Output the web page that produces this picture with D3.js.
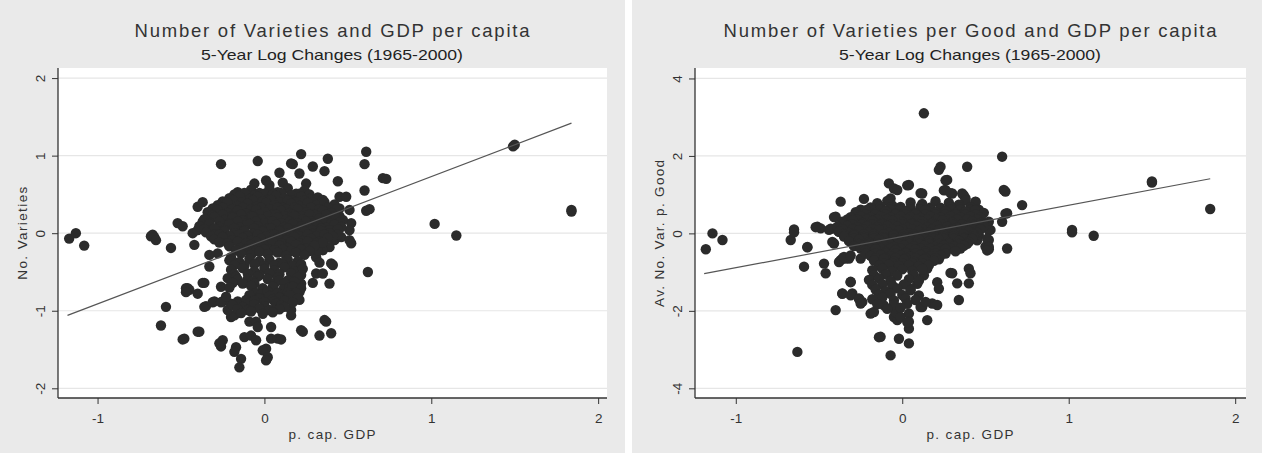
<!DOCTYPE html>
<html>
<head>
<meta charset="utf-8">
<script src="https://d3js.org/d3.v7.min.js"></script>
<style>
  body { margin: 0; background: #ffffff; }
  svg { display: block; font-family: "Liberation Sans", Arial, sans-serif; }
</style>
</head>
<body>
<div id="chart"></div>
<script>
// ---- data ----
const xTicks = [-1, 0, 1, 2];
const yTicksLeft = [-2, -1, 0, 1, 2];
const yTicksRight = [-4, -2, 0, 2, 4];

const titleLeft = "Number of Varieties and GDP per capita";
const titleRight = "Number of Varieties per Good and GDP per capita";
const subtitle = "5-Year Log Changes (1965-2000)";
const xTitle = "p. cap. GDP";
const yTitleLeft = "No. Varieties";
const yTitleRight = "Av. No. Var. p. Good";

// fitted line end points [gdp, value]
const fitLeft = [[-1.18, -1.06], [1.84, 1.42]];
const fitRight = [[-1.19, -1.04], [1.85, 1.41]];

// left panel: [log change p. cap. GDP, log change no. varieties]
const pointsLeft = [
  [-1.17,-0.07],[-1.13,0.00],[-1.08,-0.16],
  [-0.68,-0.04],[-0.67,-0.02],[-0.66,-0.05],[-0.65,-0.09],
  [-0.56,-0.19],[-0.62,-1.19],[-0.59,-0.95],[-0.48,-1.36],[-0.39,-1.27],
  [-0.47,-0.71],[-0.45,-0.73],[-0.40,-0.78],[-0.36,-0.64],[-0.35,-0.94],[-0.30,-0.88],[-0.25,-0.88],
  [-0.52,0.13],[-0.49,0.09],[-0.40,0.34],[-0.37,0.40],[-0.37,0.15],[-0.43,0.00],[-0.40,0.04],[-0.42,-0.15],
  [-0.26,0.89],[-0.04,0.93],[0.16,0.90],[0.09,0.78],[-0.06,0.64],[0.01,0.68],[0.03,0.62],[0.11,0.65],[-0.16,0.53],
  [-0.33,-0.28],[-0.28,-0.26],[-0.20,-0.31],
  [0.22,1.02],[0.17,0.89],[0.38,0.96],[0.61,1.05],[0.60,0.89],[0.71,0.71],[0.73,0.70],[0.29,0.86],[0.36,0.80],
  [0.21,0.77],[0.25,0.64],[0.44,0.67],[0.60,0.55],[0.51,0.30],[0.61,0.29],[0.63,0.31],[0.52,0.13],[0.46,-0.05],
  [0.51,-0.09],[0.42,-0.09],[0.39,-0.18],[0.35,-0.22],[0.31,-0.31],[0.32,-0.22],[0.40,-0.39],[0.52,-0.13],[0.51,0.04],
  [0.45,0.47],[0.49,0.47],[0.41,0.34],[0.45,0.32],
  [1.02,0.12],[1.15,-0.03],[1.49,1.12],[1.50,1.14],[1.84,0.28],[1.84,0.30],
  [-0.33,-0.43],[-0.46,-0.71],[-0.47,-0.76],[-0.37,-0.64],[-0.36,-0.95],[-0.31,-0.89],[-0.26,-0.89],[-0.26,-0.69],
  [-0.49,-1.37],[-0.40,-1.27],[-0.25,-1.38],[-0.26,-1.46],[-0.27,-1.42],[-0.17,-1.47],[-0.18,-1.53],[-0.14,-1.62],[-0.15,-1.73],
  [-0.12,-1.34],[-0.08,-1.32],[-0.05,-1.38],[0.01,-1.49],[-0.01,-1.51],[0.02,-1.60],[0.01,-1.64],[0.04,-1.36],[0.08,-1.36],
  [0.10,-1.37],[0.04,-1.21],[-0.09,-1.14],[-0.05,-1.14],[-0.04,-1.21],[-0.20,-1.08],[-0.18,-1.06],[-0.22,-0.99],[-0.20,-0.91],
  [0.41,-0.41],[0.33,-0.38],[0.31,-0.52],[0.35,-0.52],[0.29,-0.64],[0.39,-0.65],[0.62,-0.50],[0.21,-0.76],[0.21,-0.86],
  [0.16,-0.99],[0.16,-1.06],[0.36,-1.12],[0.37,-1.14],[0.22,-1.25],[0.23,-1.27],[0.33,-1.32],[0.40,-1.29],
  [0.17,-0.44],[0.18,-0.57],[0.22,-0.65],[0.17,-0.74],
  // dense upper cloud
  [-0.08,0.56],[-0.03,0.52],[0.03,0.57],[0.08,0.53],[0.14,0.58],[0.19,0.51],[0.24,0.55],
  [-0.18,0.50],[-0.12,0.52],[-0.06,0.49],[0.00,0.51],[0.05,0.50],[0.10,0.52],[0.16,0.49],[0.21,0.51],[0.27,0.50],
  [-0.21,0.45],[-0.15,0.48],[-0.09,0.44],[-0.04,0.47],[0.02,0.43],[0.07,0.48],[0.12,0.45],[0.17,0.42],[0.22,0.47],[0.27,0.44],[0.32,0.46],
  [-0.25,0.41],[-0.19,0.43],[-0.13,0.40],[-0.07,0.42],[-0.01,0.41],[0.04,0.43],[0.09,0.40],[0.14,0.42],[0.19,0.40],[0.24,0.42],[0.29,0.40],[0.35,0.43],
  [-0.28,0.36],[-0.22,0.39],[-0.16,0.35],[-0.10,0.38],[-0.05,0.34],[0.01,0.39],[0.06,0.36],[0.11,0.33],[0.16,0.38],[0.21,0.35],
  [0.26,0.39],[0.31,0.36],[0.36,0.40],[0.42,0.37],
  [-0.31,0.32],[-0.25,0.33],[-0.19,0.31],[-0.13,0.33],[-0.08,0.31],[-0.02,0.33],[0.03,0.31],[0.08,0.33],[0.13,0.31],[0.18,0.33],
  [0.23,0.31],[0.28,0.33],[0.33,0.31],[0.38,0.33],[0.43,0.31],
  [-0.34,0.27],[-0.28,0.30],[-0.22,0.26],[-0.16,0.29],[-0.11,0.25],[-0.05,0.30],[0.00,0.27],[0.05,0.24],[0.10,0.29],[0.15,0.26],
  [0.20,0.31],[0.25,0.27],[0.30,0.24],[0.35,0.29],[0.40,0.26],[0.45,0.22],
  [-0.31,0.23],[-0.25,0.24],[-0.19,0.22],[-0.14,0.24],[-0.08,0.22],[-0.03,0.24],[0.02,0.22],[0.07,0.24],[0.12,0.22],[0.17,0.24],
  [0.22,0.22],[0.27,0.24],[0.32,0.22],[0.37,0.24],[0.42,0.22],
  [-0.36,0.18],[-0.30,0.21],[-0.24,0.17],[-0.19,0.20],[-0.13,0.16],[-0.07,0.21],[-0.02,0.18],[0.03,0.15],[0.08,0.20],[0.13,0.17],
  [0.18,0.22],[0.23,0.18],[0.28,0.15],[0.33,0.19],[0.38,0.16],[0.43,0.20],[0.47,0.17],
  [-0.33,0.14],[-0.27,0.15],[-0.21,0.13],[-0.16,0.15],[-0.10,0.13],[-0.05,0.15],[0.00,0.13],[0.05,0.15],[0.10,0.13],[0.15,0.15],
  [0.20,0.13],[0.25,0.15],[0.30,0.13],[0.35,0.15],[0.40,0.13],[0.45,0.14],
  [-0.39,0.09],[-0.33,0.12],[-0.27,0.08],[-0.21,0.11],[-0.15,0.07],[-0.09,0.12],[-0.04,0.09],[0.02,0.06],[0.07,0.11],[0.12,0.08],
  [0.17,0.12],[0.22,0.09],[0.27,0.06],[0.32,0.10],[0.37,0.07],[0.42,0.11],[0.46,0.08],
  [-0.36,0.05],[-0.30,0.06],[-0.24,0.04],[-0.18,0.06],[-0.12,0.04],[-0.06,0.06],[-0.01,0.04],[0.04,0.06],[0.09,0.04],[0.14,0.06],
  [0.19,0.04],[0.24,0.06],[0.29,0.04],[0.34,0.06],[0.39,0.04],[0.44,0.05],
  [-0.35,0.01],[-0.30,-0.02],[-0.24,0.03],[-0.18,0.00],[-0.12,0.03],[-0.07,-0.01],[-0.01,0.02],[0.04,-0.02],[0.09,0.03],[0.14,0.00],
  [0.19,-0.03],[0.24,0.02],[0.29,-0.01],[0.34,0.03],[0.39,0.00],[0.44,-0.02],
  [-0.32,-0.04],[-0.27,-0.02],[-0.21,-0.04],[-0.15,-0.02],[-0.10,-0.04],[-0.04,-0.02],[0.01,-0.04],[0.06,-0.02],[0.11,-0.04],
  [0.16,-0.02],[0.21,-0.04],[0.26,-0.02],[0.31,-0.04],[0.36,-0.02],[0.41,-0.04],
  [-0.30,-0.08],[-0.25,-0.05],[-0.19,-0.09],[-0.13,-0.06],[-0.08,-0.10],[-0.02,-0.07],[0.03,-0.11],[0.08,-0.06],[0.13,-0.09],
  [0.18,-0.05],[0.23,-0.10],[0.28,-0.07],[0.33,-0.11],[0.38,-0.06],
  [-0.27,-0.12],[-0.22,-0.13],[-0.16,-0.11],[-0.11,-0.13],[-0.05,-0.11],[0.00,-0.13],[0.05,-0.11],[0.10,-0.13],[0.16,-0.11],
  [0.21,-0.13],[0.26,-0.11],[0.31,-0.13],[0.35,-0.12],
  [-0.21,-0.17],[-0.14,-0.19],[-0.08,-0.15],[-0.02,-0.18],[0.03,-0.21],[0.09,-0.16],[0.14,-0.19],[0.19,-0.15],[0.25,-0.20],[0.30,-0.16],
  [-0.17,-0.22],[-0.11,-0.21],[-0.05,-0.23],[0.00,-0.21],[0.06,-0.22],[0.11,-0.21],[0.16,-0.23],[0.22,-0.21],[0.27,-0.23],
  [-0.14,-0.26],[-0.08,-0.28],[-0.03,-0.24],[0.02,-0.27],[0.08,-0.25],[0.13,-0.29],[0.19,-0.25],[0.24,-0.28],
  // lower cloud
  [-0.21,-0.35],[-0.15,-0.37],[-0.09,-0.33],[-0.03,-0.36],[0.03,-0.34],[0.09,-0.38],[0.14,-0.34],[0.20,-0.36],
  [-0.18,-0.41],[-0.12,-0.42],[-0.06,-0.40],[0.00,-0.42],[0.06,-0.41],[0.11,-0.40],[0.17,-0.42],[0.22,-0.40],
  [-0.20,-0.47],[-0.13,-0.45],[-0.06,-0.49],[0.00,-0.46],[0.06,-0.48],[0.12,-0.44],[0.18,-0.49],[0.23,-0.46],
  [-0.18,-0.53],[-0.10,-0.52],[-0.03,-0.54],[0.03,-0.52],[0.09,-0.53],[0.16,-0.52],[0.22,-0.54],
  [-0.22,-0.58],[-0.17,-0.56],[-0.16,-0.60],[-0.10,-0.59],[-0.04,-0.56],[0.02,-0.59],[0.08,-0.57],[0.14,-0.61],[0.20,-0.57],
  [-0.19,-0.64],[-0.13,-0.65],[-0.07,-0.62],[-0.06,-0.65],[0.06,-0.65],[0.09,-0.61],[0.12,-0.64],[0.18,-0.63],
  [-0.21,-0.70],[-0.08,-0.68],[-0.01,-0.71],[0.05,-0.69],[0.11,-0.73],[0.15,-0.70],[0.17,-0.69],[0.22,-0.71],
  [-0.05,-0.77],[-0.02,-0.79],[0.02,-0.75],[0.08,-0.77],[0.11,-0.79],[0.14,-0.76],[0.19,-0.77],
  [-0.23,-0.82],[-0.09,-0.80],[-0.03,-0.84],[0.03,-0.81],[0.05,-0.85],[0.09,-0.83],[0.15,-0.80],[0.20,-0.84],
  [-0.16,-0.88],[-0.11,-0.86],[-0.09,-0.90],[-0.06,-0.87],[0.00,-0.89],[0.06,-0.88],[0.12,-0.87],[0.17,-0.89],
  [-0.19,-0.93],[-0.13,-0.95],[-0.06,-0.92],[0.00,-0.94],[0.07,-0.91],[0.10,-0.93],[0.12,-0.95],
  [-0.16,-0.98],[-0.10,-0.99],[-0.03,-0.97],[0.03,-0.99],[0.09,-0.98],
  [-0.14,-1.03],[-0.08,-1.01],[-0.01,-1.04],[0.05,-1.02]
];

// right panel: [log change p. cap. GDP, log change av. no. varieties per good]
const pointsRight = [
  [-1.18,-0.41],[-1.14,0.00],[-1.08,-0.17],[-0.67,-0.17],[-0.65,0.10],[-0.65,0.03],[-0.63,-3.06],[-0.59,-0.86],
  [-0.57,-0.36],[-0.51,0.17],[-0.49,0.13],[-0.47,-0.78],[-0.46,-1.03],[-0.40,0.43],[-0.37,0.82],[-0.41,-0.26],
  [-0.44,0.09],[-0.38,0.04],[-0.40,-1.98],[-0.37,-0.69],[-0.36,-0.65],[-0.32,-0.65],[-0.31,-1.25],[-0.36,-1.55],
  [-0.30,-1.55],[-0.26,-1.68],[-0.24,-1.77],[-0.23,0.89],[-0.25,-0.65],[-0.19,-2.07],[-0.17,-2.03],[-0.13,-2.67],
  [-0.07,-3.15],[-0.02,-2.72],[0.04,-2.84],[-0.05,-2.16],[-0.03,-2.24],[0.04,-2.07],[0.04,-2.28],[0.04,-2.46],
  [0.15,-2.24],[0.12,-1.90],[0.18,-1.81],[0.21,-1.85],[0.13,3.10],[0.60,1.98],[0.39,1.72],[0.23,1.72],[0.22,1.64],
  [-0.08,1.29],[-0.05,1.16],[-0.03,1.12],[0.04,1.25],[0.12,1.03],[0.27,1.38],[0.30,1.03],[0.26,1.12],[0.36,1.03],
  [0.38,0.91],[0.44,0.82],[0.61,1.12],[0.62,1.08],[0.72,0.73],[0.63,0.52],[0.60,0.30],[0.63,-0.39],[0.52,0.30],
  [0.53,0.09],[0.50,-0.34],[0.52,-0.17],[0.52,-0.41],[0.46,-0.04],[0.30,-1.03],[0.40,-0.91],[0.41,-1.03],[0.40,-1.29],
  [0.33,-1.29],[0.34,-1.72],[1.02,0.09],[1.02,0.03],[1.15,-0.06],[1.50,1.31],[1.50,1.34],[1.85,0.63],
  [-0.38,-0.74],[-0.34,-0.65],[-0.31,-1.26],[-0.36,-1.56],[-0.31,-1.60],[-0.26,-1.69],[-0.25,-1.81],[-0.14,-2.68],
  [-0.04,-2.03],[-0.01,-2.16],[0.03,-2.29],[0.11,-1.90],[0.14,-1.77],[0.21,-1.26],[0.22,-1.43],[0.29,-1.02],
  [0.22,-0.67],[0.15,-0.91],[0.13,-1.08],[0.09,-1.30],[0.10,-1.60],[0.05,-1.43],[-0.11,-1.86],
  [-0.41,0.42],[-0.52,0.16],[-0.57,-0.35],[-0.42,-0.22],[-0.43,0.12],[-0.39,0.08],[-0.35,-0.05],[-0.30,0.25],
  [-0.28,0.08],[-0.31,-0.10],[-0.19,0.59],[-0.18,0.46],[-0.07,0.90],[-0.06,0.72],[0.03,1.24],[-0.35,-0.61],
  [-0.31,-0.57],[-0.21,-0.35],[-0.19,-0.52],
  [0.26,1.37],[0.11,1.04],[0.25,1.11],[0.29,1.04],[0.37,0.98],[0.38,0.85],[0.44,0.81],[0.62,0.51],[0.51,0.16],
  [0.52,0.08],[0.51,-0.14],[0.52,-0.35],[0.51,-0.44],[0.48,0.51],[0.22,-0.61],[0.45,-0.05],[0.45,-0.18],
  // dense cloud
  [-0.15,0.78],[-0.09,0.84],[0.05,0.80],[0.12,0.76],[0.20,0.83],[0.28,0.79],[0.34,0.74],
  [-0.19,0.67],[-0.13,0.69],[-0.07,0.66],[-0.01,0.68],[0.05,0.66],[0.11,0.69],[0.17,0.67],[0.23,0.66],[0.29,0.68],
  [0.35,0.66],[0.41,0.68],
  [-0.25,0.61],[-0.19,0.61],[-0.13,0.61],[-0.07,0.61],[-0.01,0.61],[0.05,0.61],[0.11,0.61],[0.17,0.61],[0.23,0.61],
  [0.29,0.61],[0.35,0.61],[0.41,0.61],[0.46,0.61],
  [-0.28,0.55],[-0.22,0.60],[-0.16,0.52],[-0.10,0.58],[-0.04,0.51],[0.02,0.57],[0.08,0.53],[0.14,0.60],[0.20,0.54],
  [0.26,0.58],[0.32,0.51],[0.38,0.56],[0.44,0.60],[0.49,0.53],
  [-0.28,0.48],[-0.22,0.48],[-0.16,0.48],[-0.10,0.48],[-0.04,0.48],[0.02,0.48],[0.08,0.48],[0.14,0.48],[0.20,0.48],
  [0.26,0.48],[0.32,0.48],[0.38,0.48],[0.44,0.48],
  [-0.31,0.42],[-0.25,0.44],[-0.19,0.41],[-0.13,0.43],[-0.07,0.41],[-0.01,0.44],[0.05,0.42],[0.11,0.40],[0.17,0.43],
  [0.23,0.41],[0.29,0.44],[0.35,0.41],[0.41,0.43],[0.47,0.41],
  [-0.33,0.36],[-0.27,0.36],[-0.21,0.36],[-0.15,0.36],[-0.09,0.36],[-0.03,0.36],[0.03,0.36],[0.09,0.36],[0.15,0.36],
  [0.21,0.36],[0.27,0.36],[0.33,0.36],[0.39,0.36],[0.45,0.36],
  [-0.36,0.30],[-0.30,0.34],[-0.24,0.27],[-0.18,0.32],[-0.12,0.26],[-0.06,0.33],[0.00,0.29],[0.06,0.25],[0.12,0.31],
  [0.18,0.27],[0.24,0.34],[0.30,0.28],[0.36,0.24],[0.42,0.31],[0.47,0.27],
  [-0.36,0.23],[-0.30,0.23],[-0.24,0.23],[-0.18,0.23],[-0.12,0.23],[-0.06,0.23],[0.00,0.23],[0.06,0.23],[0.12,0.23],
  [0.18,0.23],[0.24,0.23],[0.30,0.23],[0.36,0.23],[0.42,0.23],[0.48,0.23],
  [-0.39,0.17],[-0.33,0.19],[-0.27,0.16],[-0.21,0.18],[-0.15,0.16],[-0.09,0.19],[-0.03,0.17],[0.03,0.15],[0.09,0.18],
  [0.15,0.16],[0.21,0.19],[0.27,0.17],[0.33,0.15],[0.39,0.18],[0.45,0.16],[0.49,0.19],
  [-0.36,0.11],[-0.30,0.11],[-0.24,0.11],[-0.18,0.11],[-0.12,0.11],[-0.06,0.11],[0.00,0.11],[0.06,0.11],[0.12,0.11],
  [0.18,0.11],[0.24,0.11],[0.30,0.11],[0.36,0.11],[0.42,0.11],[0.47,0.11],
  [-0.38,0.05],[-0.32,0.01],[-0.26,0.08],[-0.20,0.03],[-0.14,0.09],[-0.08,0.02],[-0.02,0.07],[0.04,0.00],[0.10,0.06],
  [0.16,0.02],[0.22,0.09],[0.28,0.04],[0.34,0.00],[0.40,0.06],[0.45,0.02],
  [-0.35,-0.02],[-0.29,-0.02],[-0.23,-0.02],[-0.17,-0.02],[-0.11,-0.02],[-0.05,-0.02],[0.01,-0.02],[0.07,-0.02],
  [0.13,-0.02],[0.19,-0.02],[0.25,-0.02],[0.31,-0.02],[0.37,-0.02],[0.43,-0.02],
  [-0.35,-0.08],[-0.29,-0.06],[-0.23,-0.09],[-0.17,-0.07],[-0.11,-0.10],[-0.05,-0.06],[0.01,-0.09],[0.07,-0.07],
  [0.13,-0.10],[0.19,-0.06],[0.25,-0.09],[0.31,-0.07],[0.37,-0.10],[0.43,-0.08],
  [-0.29,-0.14],[-0.23,-0.14],[-0.17,-0.14],[-0.11,-0.14],[-0.05,-0.14],[0.01,-0.14],[0.07,-0.14],[0.13,-0.14],
  [0.19,-0.14],[0.25,-0.14],[0.31,-0.14],[0.37,-0.14],[0.42,-0.14],
  [-0.32,-0.20],[-0.26,-0.16],[-0.20,-0.23],[-0.14,-0.17],[-0.08,-0.24],[-0.02,-0.18],[0.04,-0.22],[0.10,-0.15],
  [0.16,-0.21],[0.22,-0.17],[0.28,-0.24],[0.34,-0.19],[0.40,-0.22],
  [-0.26,-0.27],[-0.20,-0.27],[-0.14,-0.27],[-0.08,-0.27],[-0.02,-0.27],[0.04,-0.27],[0.10,-0.27],[0.16,-0.27],
  [0.22,-0.27],[0.28,-0.27],[0.34,-0.27],[0.39,-0.27],
  [-0.29,-0.33],[-0.23,-0.31],[-0.17,-0.34],[-0.11,-0.32],[-0.05,-0.35],[0.01,-0.31],[0.07,-0.34],[0.13,-0.32],
  [0.19,-0.35],[0.25,-0.31],[0.31,-0.34],[0.37,-0.32],
  [-0.25,-0.39],[-0.19,-0.39],[-0.13,-0.39],[-0.07,-0.39],[-0.01,-0.39],[0.05,-0.39],[0.11,-0.39],[0.17,-0.39],
  [0.23,-0.39],[0.29,-0.39],[0.35,-0.39],
  [-0.22,-0.45],[-0.16,-0.41],[-0.10,-0.48],[-0.04,-0.43],[0.02,-0.49],[0.08,-0.42],[0.14,-0.47],[0.20,-0.44],
  [0.26,-0.40],[0.32,-0.46],
  [-0.22,-0.52],[-0.16,-0.52],[-0.10,-0.52],[-0.04,-0.52],[0.02,-0.52],[0.08,-0.52],[0.14,-0.52],[0.20,-0.52],[0.26,-0.52],
  [-0.19,-0.58],[-0.13,-0.56],[-0.07,-0.59],[-0.01,-0.57],[0.05,-0.60],[0.11,-0.56],[0.17,-0.59],[0.23,-0.57],
  [-0.16,-0.64],[-0.10,-0.64],[-0.04,-0.64],[0.02,-0.64],[0.08,-0.64],[0.14,-0.64],[0.20,-0.64],
  [-0.17,-0.70],[-0.11,-0.66],[-0.05,-0.73],[0.01,-0.68],[0.07,-0.74],[0.13,-0.67],[0.19,-0.71],
  [-0.12,-0.77],[-0.06,-0.77],[0.00,-0.77],[0.06,-0.77],[0.12,-0.77],
  [-0.14,-0.83],[-0.08,-0.81],[-0.02,-0.84],[0.04,-0.82],[0.10,-0.85],[0.16,-0.82],
  [-0.18,-0.95],[-0.12,-0.91],[-0.06,-0.98],[0.00,-0.93],[0.06,-0.97],[0.12,-0.92],
  [-0.17,-1.08],[-0.10,-1.06],[-0.03,-1.09],[0.07,-1.07],
  [-0.20,-1.20],[-0.14,-1.16],[-0.07,-1.23],[0.04,-1.18],[0.10,-1.22],
  [-0.18,-1.33],[-0.12,-1.31],[-0.06,-1.34],[0.01,-1.32],
  [-0.16,-1.45],[-0.10,-1.49],[-0.03,-1.42],[0.05,-1.47],
  [-0.14,-1.58],[-0.07,-1.56],[0.00,-1.59],
  [-0.18,-1.70],[-0.12,-1.66],[-0.05,-1.73],[0.02,-1.68],[0.08,-1.72],
  [-0.15,-1.83],[-0.05,-1.84],[0.03,-1.82],
  [-0.09,-1.95],[-0.01,-1.92]
];

// ---- layout ----
const W = 1262, H = 453;
const bg = "#eaeaea", dot = "#2b2b2b";

const svg = d3.select("#chart").append("svg")
  .attr("width", W).attr("height", H);

svg.append("rect").attr("width", W).attr("height", H).attr("fill", "#ffffff");

function drawPanel(cfg) {
  const g = svg.append("g");

  // grey panel background
  g.append("rect")
    .attr("x", cfg.panel[0]).attr("y", 0)
    .attr("width", cfg.panel[1] - cfg.panel[0]).attr("height", H)
    .attr("fill", bg);

  const x = d3.scaleLinear().domain(cfg.xDomain).range([cfg.left, cfg.right]);
  const y = d3.scaleLinear().domain(cfg.yDomain).range([cfg.bottom, cfg.top]);

  // white plot region
  g.append("rect")
    .attr("x", cfg.left).attr("y", cfg.top)
    .attr("width", cfg.right - cfg.left).attr("height", cfg.bottom - cfg.top)
    .attr("fill", "#ffffff");

  // horizontal gridlines
  g.selectAll(".grid")
    .data(cfg.yTicks)
    .enter().append("line")
    .attr("x1", cfg.left).attr("x2", cfg.right)
    .attr("y1", d => y(d)).attr("y2", d => y(d))
    .attr("stroke", "#e6e6e6").attr("stroke-width", 1.2);

  // points
  g.selectAll(".pt")
    .data(cfg.points)
    .enter().append("circle")
    .attr("cx", d => x(d[0]))
    .attr("cy", d => y(d[1]))
    .attr("r", 5.2)
    .attr("fill", dot);

  // fitted line
  g.append("path")
    .datum(cfg.fit)
    .attr("d", d3.line().x(d => x(d[0])).y(d => y(d[1])))
    .attr("fill", "none")
    .attr("stroke", "#555555")
    .attr("stroke-width", 1.2);

  // x axis
  const xAxis = g.append("g")
    .attr("transform", `translate(0,${cfg.bottom})`)
    .call(d3.axisBottom(x).tickValues(xTicks).tickSize(6).tickFormat(d => String(d)));
  xAxis.select(".domain").attr("d", `M${cfg.left},0H${cfg.right}`).attr("stroke", "#333").attr("stroke-width", 1.3);
  xAxis.selectAll(".tick line").attr("stroke", "#333");
  xAxis.selectAll(".tick text")
    .attr("y", 25).attr("dy", 0)
    .style("font-size", "13.5px").attr("fill", "#333");

  // y axis with rotated labels
  const yAxis = g.append("g")
    .attr("transform", `translate(${cfg.left},0)`)
    .call(d3.axisLeft(y).tickValues(cfg.yTicks).tickSize(6).tickFormat(d => String(d)));
  yAxis.select(".domain").attr("d", `M0,${cfg.top}V${cfg.bottom}`).attr("stroke", "#333").attr("stroke-width", 1.3);
  yAxis.selectAll(".tick line").attr("stroke", "#333");
  yAxis.selectAll(".tick text")
    .attr("transform", "rotate(-90)")
    .attr("x", 0).attr("y", -13).attr("dy", 0)
    .attr("text-anchor", "middle")
    .style("font-size", "13.5px").attr("fill", "#333");

  // titles
  const cx = cfg.titleCenter;
  g.append("text")
    .attr("x", cx).attr("y", 37)
    .attr("text-anchor", "middle")
    .attr("textLength", cfg.titleWidth)
    .style("font-size", "18.5px").attr("fill", "#333")
    .text(cfg.title);
  g.append("text")
    .attr("x", cx).attr("y", 60)
    .attr("text-anchor", "middle")
    .attr("textLength", 262).attr("lengthAdjust", "spacingAndGlyphs")
    .style("font-size", "15px").attr("fill", "#222")
    .text(subtitle);

  // axis titles
  g.append("text")
    .attr("x", cx).attr("y", 439)
    .attr("text-anchor", "middle")
    .attr("textLength", 87)
    .style("font-size", "13.5px").attr("fill", "#333")
    .text(xTitle);
  g.append("text")
    .attr("transform", `translate(${cfg.yTitleX},${y(0)}) rotate(-90)`)
    .attr("text-anchor", "middle")
    .attr("textLength", cfg.yTitleWidth)
    .style("font-size", "13.5px").attr("fill", "#333")
    .text(cfg.yTitle);
}

drawPanel({
  panel: [0, 625],
  left: 58, right: 607, top: 68, bottom: 398,
  xDomain: [-1.237, 2.053], yDomain: [-2.125, 2.13],
  yTicks: yTicksLeft, points: pointsLeft, fit: fitLeft,
  title: titleLeft, titleWidth: 395, titleCenter: 332,
  yTitle: yTitleLeft, yTitleWidth: 93, yTitleX: 27
});

drawPanel({
  panel: [632, W],
  left: 695, right: 1246, top: 68, bottom: 398,
  xDomain: [-1.245, 2.065], yDomain: [-4.25, 4.27],
  yTicks: yTicksRight, points: pointsRight, fit: fitRight,
  title: titleRight, titleWidth: 493, titleCenter: 970,
  yTitle: yTitleRight, yTitleWidth: 147, yTitleX: 664
});
</script>
</body>
</html>
